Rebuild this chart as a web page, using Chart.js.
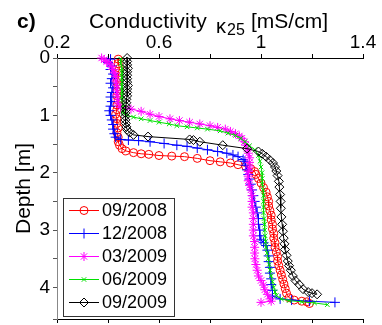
<!DOCTYPE html>
<html>
<head>
<meta charset="utf-8">
<script src="https://cdn.jsdelivr.net/npm/chart.js@4/dist/chart.umd.min.js"></script>
<style>
html,body{margin:0;padding:0;background:#fff;}
#wrap{position:relative;width:382px;height:325px;}
canvas{display:block;}
</style>
</head>
<body>
<div id="wrap"><canvas id="c" width="382" height="325"></canvas></div>
<script>
// ---- data ----
const seriesLabels = ['09/2008', '12/2008', '03/2009', '06/2009', '09/2009'];

const sep08Depth = [0.02,0.1,0.18,0.26,0.34,0.42,0.5,0.58,0.66,0.74,0.82,0.9,0.98,1.06,1.14,1.22,1.3,1.38,1.46,1.52,1.58,1.62,
  1.65,1.67,1.68,1.70,1.71,1.72,1.75,1.79,1.81,1.83,1.86,1.89,1.93,1.98,2.03,
  2.1,2.18,2.26,2.34,2.42,2.5,2.58,2.66,2.74,2.82,2.9,2.98,3.06,3.14,3.22,3.3,3.38,3.46,3.54,3.62,3.7,3.78,3.86,3.94,4.02,4.1,
  4.18,4.22,4.24,4.25,4.28];
const sep08Cond = [0.44,0.44,0.445,0.44,0.44,0.435,0.44,0.435,0.435,0.44,0.435,0.435,0.43,0.435,0.435,0.44,0.435,0.44,0.44,0.445,0.455,0.47,
  0.50,0.53,0.56,0.60,0.65,0.70,0.75,0.80,0.84,0.88,0.91,0.94,0.96,0.975,0.98,
  0.99,1.0,1.01,1.02,1.025,1.03,1.03,1.035,1.04,1.04,1.045,1.045,1.05,1.05,1.055,1.055,1.06,1.065,1.065,1.07,1.075,1.08,1.085,1.09,1.095,1.10,
  1.11,1.13,1.16,1.18,1.19];

const dec08Depth = [0.02,0.08,0.14,0.2,0.28,0.36,0.44,0.52,0.6,0.68,0.76,0.84,0.92,1.0,1.08,1.16,1.24,1.32,1.38,1.42,
  1.43,1.44,1.46,1.49,1.52,1.54,1.57,1.6,1.63,1.66,1.69,1.72,1.77,1.8,
  1.87,1.95,2.03,2.11,2.2,2.3,2.4,2.5,2.6,2.7,2.8,2.9,3.0,3.1,3.17,3.22,3.27,3.35,3.45,3.55,3.65,3.75,3.85,3.95,4.05,4.15,
  4.2,4.22,4.24,4.26];
const dec08Cond = [0.41,0.40,0.415,0.41,0.42,0.415,0.41,0.42,0.415,0.41,0.415,0.41,0.405,0.41,0.415,0.42,0.42,0.425,0.43,0.45,
  0.48,0.52,0.565,0.62,0.67,0.71,0.75,0.79,0.83,0.866,0.89,0.91,0.93,0.937,
  0.94,0.945,0.95,0.955,0.96,0.965,0.97,0.975,0.98,0.985,0.99,0.99,0.995,0.995,1.0,1.01,1.02,1.025,1.03,1.03,1.035,1.035,1.04,1.04,1.045,1.045,
  1.075,1.12,1.19,1.29];

const mar09Depth = [0.0,0.03,0.06,0.1,0.15,0.2,0.26,0.32,0.4,0.48,0.56,0.64,0.72,0.8,0.86,0.89,0.93,0.98,1.02,1.06,
  1.09,1.12,1.15,1.18,1.21,1.24,1.28,1.32,1.36,1.4,1.46,1.52,1.58,1.66,1.74,1.82,1.9,1.98,2.06,2.14,
  2.22,2.3,2.4,2.5,2.6,2.7,2.8,2.9,3.0,3.1,3.2,3.3,3.4,3.5,3.6,3.7,3.8,3.88,3.96,4.04,4.12,4.2,4.24,4.26];
const mar09Cond = [0.375,0.385,0.395,0.405,0.415,0.42,0.425,0.43,0.43,0.435,0.435,0.435,0.44,0.44,0.45,0.49,0.53,0.565,0.60,0.643,
  0.68,0.72,0.76,0.80,0.83,0.86,0.88,0.90,0.915,0.925,0.935,0.94,0.945,0.95,0.955,0.955,0.955,0.95,0.95,0.95,
  0.955,0.96,0.965,0.965,0.965,0.97,0.97,0.97,0.97,0.97,0.975,0.975,0.975,0.976,0.98,0.985,0.99,1.0,1.01,1.015,1.025,1.035,1.04,1.0];

const jun09Depth = [0.02,0.1,0.18,0.26,0.34,0.42,0.5,0.58,0.66,0.74,0.82,0.9,0.96,1.0,1.03,1.06,1.09,1.12,1.15,1.18,
  1.2,1.22,1.24,1.27,1.31,1.35,1.4,1.46,1.53,1.6,1.7,1.8,1.9,2.0,2.1,2.2,2.3,2.4,2.5,2.6,
  2.7,2.8,2.9,3.0,3.1,3.2,3.3,3.4,3.5,3.6,3.7,3.8,3.9,4.0,4.08,4.14,4.2,4.23,4.25,4.27,4.3];
const jun09Cond = [0.45,0.45,0.455,0.455,0.455,0.455,0.455,0.455,0.455,0.455,0.46,0.46,0.46,0.47,0.50,0.53,0.565,0.60,0.64,0.67,
  0.71,0.75,0.79,0.84,0.87,0.90,0.92,0.937,0.955,0.976,0.99,0.996,1.0,1.004,1.005,1.005,1.008,1.01,1.01,1.01,
  1.01,1.012,1.014,1.015,1.016,1.018,1.02,1.024,1.028,1.032,1.036,1.04,1.045,1.05,1.055,1.06,1.08,1.11,1.16,1.21,1.26];

const sep09Depth = [0.0,0.06,0.12,0.18,0.24,0.3,0.36,0.42,0.48,0.54,0.6,0.66,0.72,0.78,0.84,0.9,0.96,1.02,1.08,1.14,
  1.2,1.25,1.3,1.34,1.37,1.42,1.43,1.46,1.52,1.58,1.63,1.67,1.72,1.78,1.83,1.9,1.97,2.05,2.15,2.25,
  2.38,2.5,2.62,2.77,2.9,3.02,3.14,3.24,3.34,3.44,3.54,3.62,3.7,3.8,3.88,3.95,4.03,4.08,4.1,4.12];
const sep09Cond = [0.475,0.475,0.475,0.478,0.475,0.475,0.475,0.475,0.478,0.475,0.475,0.475,0.472,0.472,0.47,0.47,0.468,0.468,0.468,0.47,
  0.472,0.475,0.485,0.50,0.557,0.72,0.735,0.76,0.85,0.945,0.99,1.005,1.02,1.035,1.047,1.055,1.06,1.065,1.07,1.072,
  1.075,1.077,1.078,1.08,1.083,1.086,1.089,1.092,1.094,1.10,1.105,1.11,1.117,1.125,1.135,1.15,1.165,1.185,1.20,1.22];

const xMajorLabels = [0.2, 0.6, 1.0, 1.4];
const yMajorLabels = [0, 1, 2, 3, 4];

// ---- build chart ----
const FONT = "'Liberation Sans', Arial, Helvetica, sans-serif";
Chart.defaults.font.family = FONT;
Chart.defaults.color = '#000';

function pts(cond, depth) { return cond.map((c, i) => ({ x: c, y: depth[i] })); }

const styles = [
  { color: '#ff0000', pointStyle: 'circle', radius: 4 },
  { color: '#0000ff', pointStyle: 'cross', radius: 5 },
  { color: '#ff00ff', pointStyle: 'star', radius: 4.5 },
  { color: '#00e000', pointStyle: 'crossRot', radius: 3.2 },
  { color: '#000000', pointStyle: 'rectRot', radius: 4.5 }
];
const sets = [[sep08Cond, sep08Depth], [dec08Cond, dec08Depth], [mar09Cond, mar09Depth], [jun09Cond, jun09Depth], [sep09Cond, sep09Depth]];

const datasets = sets.map((s, i) => ({
  label: seriesLabels[i],
  data: pts(s[0], s[1]),
  showLine: true,
  borderColor: styles[i].color,
  backgroundColor: 'rgba(0,0,0,0)',
  borderWidth: 1,
  pointStyle: styles[i].pointStyle,
  pointRadius: styles[i].radius,
  pointBorderWidth: 1,
  pointBorderColor: styles[i].color,
  pointBackgroundColor: 'rgba(0,0,0,0)',
  tension: 0,
  clip: false,
  order: 5 - i
}));

function near(v, list) { return list.some(l => Math.abs(v - l) < 1e-6); }

const legendPlugin = {
  id: 'boxLegend',
  afterDatasetsDraw(chart) {
    const ctx = chart.ctx;
    const bx = 63.5, by = 198.5, bw = 111, bh = 118;
    ctx.save();
    ctx.fillStyle = '#fff';
    ctx.fillRect(bx, by, bw, bh);
    ctx.strokeStyle = '#333';
    ctx.lineWidth = 1;
    ctx.strokeRect(bx, by, bw, bh);
    chart.data.datasets.forEach((ds, i) => {
      const y = 210 + 23 * i;
      ctx.strokeStyle = ds.borderColor;
      ctx.lineWidth = 1;
      ctx.beginPath();
      ctx.moveTo(69, y + 0.5);
      ctx.lineTo(99, y + 0.5);
      ctx.stroke();
      ctx.fillStyle = 'rgba(0,0,0,0)';
      Chart.helpers.drawPoint(ctx, { pointStyle: ds.pointStyle, radius: ds.pointRadius, rotation: 0, borderWidth: 1 }, 84, y + 0.5);
      ctx.fillStyle = '#000';
      ctx.font = '18px ' + FONT;
      ctx.textBaseline = 'middle';
      ctx.textAlign = 'left';
      ctx.fillText(ds.label, 102, y + 1);
    });
    ctx.restore();
  }
};

const titlePlugin = {
  id: 'titles',
  afterDraw(chart) {
    const ctx = chart.ctx;
    ctx.save();
    ctx.fillStyle = '#000';
    ctx.textBaseline = 'alphabetic';
    ctx.textAlign = 'left';
    ctx.font = 'bold 21px ' + FONT;
    ctx.fillText('c)', 17, 28);
    ctx.font = '21px ' + FONT;
    if ('letterSpacing' in ctx) ctx.letterSpacing = '0.3px';
    ctx.fillText('Conductivity', 89, 28);
    if ('letterSpacing' in ctx) ctx.letterSpacing = '0px';
    ctx.font = '20px ' + FONT;
    ctx.fillText('\u03BA', 216, 33);
    ctx.font = '16px ' + FONT;
    ctx.fillText('25', 227, 35);
    ctx.font = '21px ' + FONT;
    ctx.fillText('[mS/cm]', 251, 28);
    ctx.restore();
  }
};

new Chart(document.getElementById('c'), {
  type: 'scatter',
  data: { datasets },
  options: {
    responsive: false,
    animation: false,
    events: [],
    layout: { padding: { left: 0, right: 19, top: 0, bottom: 0 } },
    plugins: { legend: { display: false }, tooltip: { enabled: false }, title: { display: false } },
    scales: {
      x: {
        type: 'linear', position: 'top', min: 0.2, max: 1.4,
        ticks: {
          stepSize: 0.2, autoSkip: false, maxRotation: 0, padding: 0,
          font: { size: 19 }, color: '#000',
          callback: (v) => near(v, xMajorLabels) ? String(Math.round(v * 10) / 10) : ''
        },
        grid: { drawOnChartArea: false, tickLength: 4, color: '#000', tickWidth: 1 },
        border: { color: '#000', width: 1 },
        afterFit(s) { s.height = 58; s.paddingLeft = 0; s.paddingRight = 0; }
      },
      x2: {
        type: 'linear', position: 'bottom', min: 0.2, max: 1.4,
        ticks: { stepSize: 0.2, callback: () => '' },
        grid: { drawOnChartArea: false, tickLength: 4, color: '#000' },
        border: { color: '#000', width: 1 },
        afterFit(s) { s.height = 3; s.paddingLeft = 0; s.paddingRight = 0; }
      },
      y: {
        type: 'linear', position: 'left', reverse: true, min: 0, max: 4.55,
        ticks: {
          stepSize: 0.5, autoSkip: false, padding: 3,
          font: { size: 19 }, color: '#000',
          callback: (v) => near(v, yMajorLabels) ? String(Math.round(v)) : ''
        },
        grid: { drawOnChartArea: false, tickLength: 4, color: '#555' },
        border: { color: '#888', width: 1 },
        title: { display: true, text: 'Depth [m]', font: { size: 21 }, color: '#000', padding: { top: 12, bottom: 0 } },
        afterFit(s) { s.width = 57; s.paddingTop = 0; s.paddingBottom = 0; }
      }
    }
  },
  plugins: [legendPlugin, titlePlugin]
});
</script>
</body>
</html>
